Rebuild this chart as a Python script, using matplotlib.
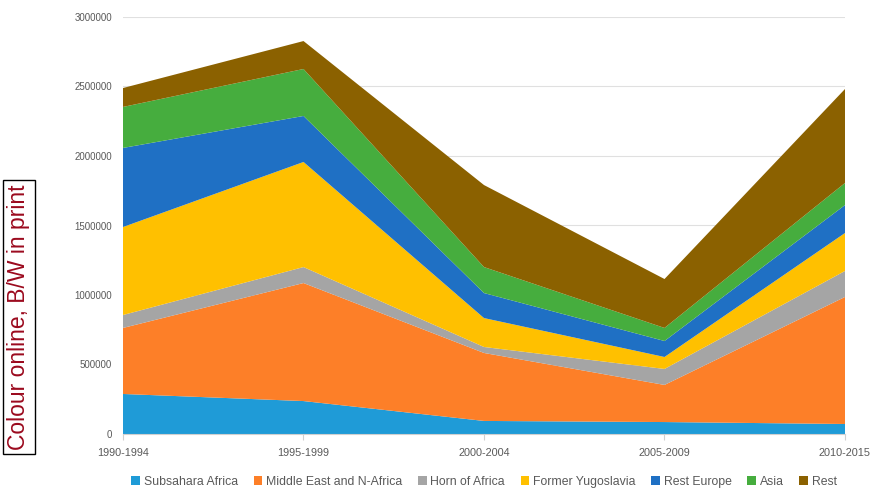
import numpy as np
import matplotlib.pyplot as plt

# periods and stacked series (persons)
periods = ["1990-1994", "1995-1999", "2000-2004", "2005-2009", "2010-2015"]
subsahara = [288000, 237000, 94000, 86000, 72000]
middle_east = [475000, 849000, 489000, 267000, 914000]
horn = [93000, 115000, 43000, 115000, 187000]
yugoslavia = [633000, 756000, 208000, 86000, 273000]
rest_europe = [569000, 331000, 180000, 115000, 201000]
asia = [295000, 338000, 187000, 94000, 159000]
rest = [136000, 201000, 590000, 352000, 676000]

names = ["Subsahara Africa", "Middle East and N-Africa", "Horn of Africa",
         "Former Yugoslavia", "Rest Europe", "Asia", "Rest"]
colors = ["#1f9bd7", "#fd7f28", "#a5a5a5", "#ffc000", "#1f70c4", "#46ad3e", "#8b6100"]
yticks = [0, 500000, 1000000, 1500000, 2000000, 2500000, 3000000]

plt.rcParams['font.family'] = ['Liberation Sans', 'DejaVu Sans']

fig = plt.figure(figsize=(8.78, 4.88), dpi=100)
ax = fig.add_axes([123/878, 1 - 434/488, (845-123)/878, (434-17)/488])

x = np.arange(len(periods))
ax.stackplot(x, subsahara, middle_east, horn, yugoslavia, rest_europe, asia, rest,
             colors=colors, labels=names, zorder=2, linewidth=0)

ax.set_xlim(0, len(periods) - 1)
ax.set_ylim(0, 3000000)
ax.set_yticks(yticks)
ax.set_yticklabels([str(v) for v in yticks])
ax.set_xticks(x)
ax.set_xticklabels(periods)
ax.grid(axis="y", color="#e0e0e0", linewidth=0.8, zorder=0)
for s in ["top", "right", "left"]:
    ax.spines[s].set_visible(False)
ax.spines["bottom"].set_color("#d0d0d0")
ax.tick_params(axis="y", length=0, labelsize=7, colors="#595959", pad=8)
ax.tick_params(axis="x", length=4, color="#d0d0d0", labelsize=7.8, labelcolor="#595959", pad=6)

ax.legend(loc="upper center", bbox_to_anchor=(0.5, -0.074), ncol=7, frameon=False,
          fontsize=8.8, handlelength=0.7, handleheight=0.7, handletextpad=0.3,
          columnspacing=1.3, labelcolor="#595959")

fig.text(19/878, 1 - 317/488, "Colour online, B/W in print", rotation=90,
         ha="center", va="center", fontsize=16.5, color="#9b0a1e",
         bbox=dict(boxstyle="square,pad=0.2", facecolor="white", edgecolor="black", linewidth=1))

fig.savefig("out.png", dpi=100)
